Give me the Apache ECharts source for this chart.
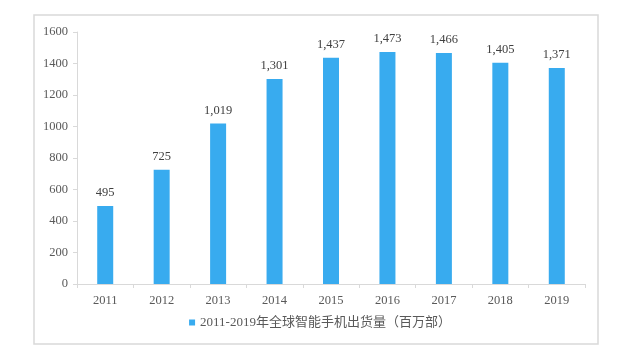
<!DOCTYPE html>
<html>
<head>
<meta charset="utf-8">
<script src="https://cdn.jsdelivr.net/npm/echarts@6/dist/echarts.min.js"></script>
<style>
  html, body { margin: 0; padding: 0; background: #fff; }
  #chart { width: 640px; height: 351px; }
</style>
</head>
<body>
<div id="chart"></div>
<script>
// 数据
var years = ['2011', '2012', '2013', '2014', '2015', '2016', '2017', '2018', '2019']
var shipments = [495, 725, 1019, 1301, 1437, 1473, 1466, 1405, 1371]
var seriesName = '2011-2019年全球智能手机出货量（百万部）'

var myChart = echarts.init(document.getElementById('chart'))

var serif = '"Liberation Serif", "Noto Sans CJK SC", serif'

var options = {
  animation: false,
  textStyle: { fontFamily: serif },
  graphic: [
    {
      // 外框
      type: 'rect',
      shape: { x: 34, y: 15, width: 564, height: 329 },
      style: { fill: 'none', stroke: '#d9d9d9', lineWidth: 1.5 },
      silent: true,
    },
  ],
  grid: {
    left: 77,
    right: 55,
    top: 32,
    bottom: 67,
  },
  legend: {
    bottom: 17,
    left: 'center',
    itemWidth: 6,
    itemHeight: 6,
    itemGap: 4,
    icon: 'rect',
    textStyle: {
      color: '#595959',
      fontSize: 13,
      fontFamily: serif,
    },
  },
  xAxis: {
    type: 'category',
    data: years,
    axisLine: { lineStyle: { color: '#d9d9d9', width: 1 } },
    axisTick: { show: true, lineStyle: { color: '#d9d9d9' }, length: 4 },
    axisLabel: {
      color: '#595959',
      fontSize: 12.5,
      margin: 10,
      fontFamily: serif,
    },
  },
  yAxis: {
    type: 'value',
    min: 0,
    max: 1600,
    interval: 200,
    splitLine: { show: false },
    axisLine: { show: true, lineStyle: { color: '#d9d9d9', width: 1 } },
    axisTick: { show: true, lineStyle: { color: '#d9d9d9' }, length: 4 },
    axisLabel: {
      color: '#595959',
      fontSize: 12.5,
      margin: 9,
      fontFamily: serif,
      formatter: function (v) {
        return String(v)
      },
    },
  },
  series: [
    {
      name: seriesName,
      type: 'bar',
      data: shipments,
      barWidth: 16,
      itemStyle: { color: '#38abef' },
      label: {
        show: true,
        position: 'top',
        distance: 7,
        color: '#404040',
        fontSize: 12.5,
        fontFamily: serif,
        formatter: function (p) {
          return p.value.toLocaleString('en-US')
        },
      },
    },
  ],
}

myChart.setOption(options)
</script>
</body>
</html>
